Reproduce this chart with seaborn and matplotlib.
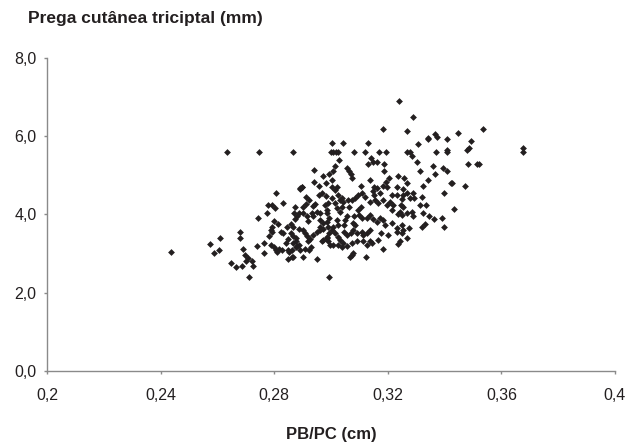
import matplotlib; matplotlib.use('Agg')
import numpy as np
import pandas as pd
import matplotlib.pyplot as plt
import seaborn as sns

# PB/PC (cm) and triceps skinfold (mm)
pb_pc = [
    0.2437, 0.2574, 0.2610, 0.2605, 0.2587,
    0.2635, 0.2748, 0.2867, 0.2941, 0.2973, 0.2941, 0.2957, 0.2982, 0.2994, 0.2897, 0.2891,
    0.3241, 0.3289, 0.3184, 0.3269, 0.3343, 0.3004, 0.3042, 0.3130, 0.3306, 0.3000, 0.3008,
    0.3018, 0.3026, 0.3082, 0.3120, 0.3168, 0.3195, 0.3269, 0.3278, 0.3286, 0.3141, 0.3149,
    0.3163, 0.3130, 0.3029, 0.3188, 0.3303, 0.3014, 0.3057, 0.3064, 0.3070, 0.3075, 0.3008,
    0.3188, 0.3315, 0.3002, 0.3138, 0.3205, 0.3237, 0.3257, 0.3193, 0.3269, 0.3341, 0.3324,
    0.3004, 0.3022, 0.3107, 0.3151, 0.3184, 0.3196, 0.3234, 0.3255,
    0.3534, 0.3446, 0.3367, 0.3373, 0.3342, 0.3409, 0.3493, 0.3675, 0.3675, 0.3486, 0.3480,
    0.3407, 0.3409, 0.3370, 0.3484, 0.3515, 0.3522, 0.3359, 0.3396, 0.3409, 0.3365, 0.3423,
    0.3427, 0.3473,
    0.3321, 0.3398, 0.3313, 0.3333, 0.3433, 0.3323, 0.3345, 0.3362, 0.3391, 0.3319, 0.3332, 0.3398,
    0.2805, 0.2830, 0.2779, 0.2791, 0.2803, 0.2775, 0.2742, 0.2799, 0.2815, 0.2791, 0.2788,
    0.2793, 0.2783, 0.2824, 0.2832, 0.2678, 0.2678, 0.2763, 0.2740, 0.2789, 0.2799, 0.2689,
    0.2816, 0.2827, 0.2805, 0.2811, 0.2763, 0.2850, 0.2697, 0.2709, 0.2701, 0.2723, 0.2727,
    0.2648, 0.2665, 0.2688, 0.2711, 0.2850, 0.2862, 0.2867, 0.2902, 0.2952, 0.2852, 0.2862,
    0.2877, 0.2891, 0.2908, 0.2850, 0.2840, 0.2879, 0.2876, 0.2867, 0.2888, 0.2859, 0.2865,
    0.2877, 0.2859, 0.2867, 0.2844, 0.2887, 0.2900, 0.2908, 0.2914, 0.2926, 0.2920, 0.2938,
    0.2950, 0.2961, 0.2928, 0.2923, 0.2967, 0.2985, 0.2994, 0.2873, 0.2879, 0.2888, 0.2870,
    0.2874, 0.2902, 0.2914, 0.2920, 0.2900, 0.2912, 0.2923, 0.2891, 0.2897, 0.2912, 0.2944,
    0.2936, 0.2932, 0.2938, 0.2950, 0.2961, 0.2959, 0.2967, 0.2982, 0.2961, 0.2973, 0.2985,
    0.2994, 0.2961, 0.2973, 0.2991, 0.2979, 0.2991, 0.2985,
    0.3014, 0.3161, 0.3173, 0.3149, 0.3152, 0.3108, 0.3096, 0.3085, 0.3075, 0.3120, 0.3002,
    0.3026, 0.3038, 0.3043, 0.3032, 0.3061, 0.3064, 0.2987, 0.3014, 0.3020, 0.3032, 0.3038,
    0.3055, 0.3049, 0.3046, 0.3081, 0.3079, 0.3085, 0.3100, 0.3108, 0.3096, 0.3104, 0.3137,
    0.3155, 0.3167, 0.3184, 0.3196, 0.3208, 0.3217, 0.3214, 0.3214, 0.3231, 0.3255, 0.3249,
    0.3269, 0.3278, 0.3246, 0.3255, 0.3243, 0.3235, 0.3249, 0.3269, 0.3290, 0.3292, 0.3284,
    0.3288, 0.3126, 0.3137, 0.3149, 0.3161, 0.3173, 0.3184, 0.3190, 0.3214, 0.3231, 0.3249,
    0.3276, 0.3234, 0.3249, 0.3252, 0.3202, 0.3175, 0.3269, 0.3243, 0.3237, 0.3137, 0.3126,
    0.3114, 0.3108, 0.3079, 0.3069, 0.3055, 0.3046, 0.3008, 0.3002, 0.3020, 0.3026, 0.3014,
    0.3026, 0.3032, 0.2985, 0.2973, 0.2991, 0.2996, 0.3043, 0.3055, 0.3073, 0.3091, 0.3114,
    0.3137, 0.3126, 0.3143, 0.3008, 0.3026, 0.3038, 0.3073, 0.3067, 0.3079, 0.3122, 0.3182,
    0.2994, 0.3167, 0.3091,
]
prega = [
    3.05, 3.25, 3.40, 3.09, 3.01,
    5.59, 5.59, 5.59, 5.14, 4.99, 4.84, 4.74, 4.80, 5.04, 4.70, 4.65,
    6.89, 6.49, 6.19, 6.14, 5.95, 5.84, 5.84, 5.84, 5.80, 5.59, 5.59,
    5.59, 5.59, 5.59, 5.59, 5.59, 5.59, 5.59, 5.59, 5.49, 5.45, 5.35,
    5.35, 5.29, 5.39, 5.29, 5.35, 5.24, 5.19, 5.11, 5.04, 4.94, 5.10,
    5.10, 5.10, 4.89, 4.89, 4.94, 4.99, 4.94, 4.84, 4.80, 4.88, 4.74,
    4.70, 4.70, 4.74, 4.70, 4.74, 4.70, 4.70, 4.65,
    6.19, 6.09, 6.05, 5.99, 5.94, 5.94, 5.89, 5.70, 5.59, 5.70, 5.64,
    5.64, 5.59, 5.59, 5.29, 5.29, 5.29, 5.24, 5.19, 5.10, 5.04, 4.80,
    4.80, 4.74,
    4.44, 4.54, 4.25, 4.25, 4.14, 4.05, 3.95, 3.89, 3.90, 3.69, 3.75, 3.69,
    4.54, 4.30, 4.25, 4.25, 4.16, 4.05, 3.91, 3.84, 3.76, 3.69, 3.61,
    3.54, 3.45, 3.56, 3.52, 3.55, 3.39, 3.26, 3.20, 3.22, 3.18, 3.13,
    3.13, 3.08, 3.08, 3.03, 3.01, 3.09, 2.97, 2.88, 2.80, 2.80, 2.69,
    2.77, 2.65, 2.69, 2.40, 2.86, 2.91, 2.91, 2.91, 2.86, 3.03, 3.09,
    3.18, 3.09, 3.13, 3.37, 3.26, 3.20, 3.33, 3.26, 3.22, 3.52, 3.46,
    3.39, 3.76, 3.69, 3.69, 3.64, 3.61, 3.52, 3.45, 3.37, 3.31, 3.48,
    3.54, 3.61, 3.18, 3.09, 3.31, 3.39, 3.52, 3.88, 3.95, 4.03, 4.05,
    4.20, 4.03, 3.95, 3.84, 4.20, 4.27, 4.37, 4.67, 4.71, 4.46, 4.27,
    4.22, 4.03, 3.96, 4.07, 4.03, 4.50, 4.54, 4.48, 3.86, 3.78, 3.82,
    3.91, 3.69, 3.62, 3.69, 4.25, 4.29, 4.12,
    4.63, 4.67, 4.54, 4.59, 4.50, 4.54, 4.50, 4.41, 4.37, 4.46, 4.41,
    4.50, 4.41, 4.33, 4.37, 4.37, 4.20, 4.03, 4.29, 4.16, 4.07, 4.20,
    3.96, 3.86, 3.73, 3.95, 3.79, 3.73, 3.99, 3.91, 4.12, 4.20, 4.33,
    4.37, 4.29, 4.37, 4.25, 4.33, 4.25, 4.12, 4.50, 4.50, 4.50, 4.39,
    4.54, 4.41, 4.25, 4.18, 4.07, 4.01, 3.99, 4.03, 4.54, 4.41, 4.07,
    3.95, 3.91, 3.99, 3.88, 3.82, 3.91, 3.86, 3.73, 3.78, 3.65, 3.73,
    3.65, 3.54, 3.52, 3.61, 3.48, 3.52, 3.39, 3.31, 3.25, 3.61, 3.52,
    3.48, 3.56, 3.61, 3.52, 3.48, 3.56, 3.69, 3.61, 3.86, 3.73, 3.52,
    3.43, 3.35, 3.43, 3.35, 3.31, 3.22, 3.26, 3.20, 3.26, 3.31, 3.31,
    3.31, 3.22, 3.26, 3.22, 3.22, 3.18, 2.97, 2.92, 3.01, 2.91, 3.11,
    2.40, 3.35, 3.52,
]
x_ticks = [0.2, 0.24, 0.28, 0.32, 0.36, 0.4]
x_labels = ['0,2', '0,24', '0,28', '0,32', '0,36', '0,4']
y_ticks = [0.0, 2.0, 4.0, 6.0, 8.0]
y_labels = ['0,0', '2,0', '4,0', '6,0', '8,0']

df = pd.DataFrame({'pb_pc': pb_pc, 'prega': prega})

sns.set_theme(style='white')
plt.rcParams['font.family'] = ['Liberation Sans', 'DejaVu Sans']

fig = plt.figure(figsize=(6.29, 4.46), dpi=100)
ax = fig.add_axes([47/629, 75/446, 568/629, 313/446])

sns.scatterplot(data=df, x='pb_pc', y='prega', marker='D', s=12,
                color='#231f20', linewidth=0, ax=ax)

ax.set_xlim(0.2, 0.4)
ax.set_ylim(0, 8)
ax.set_xticks(x_ticks)
ax.set_xticklabels(x_labels)
ax.set_yticks(y_ticks)
ax.set_yticklabels(y_labels)
ax.set_xlabel('')
ax.set_ylabel('')

for s in ['top', 'right']:
    ax.spines[s].set_visible(False)
for s in ['left', 'bottom']:
    ax.spines[s].set_color('#8a8a8a')
    ax.spines[s].set_linewidth(1.0)

ax.tick_params(axis='x', direction='out', length=2.5, width=1, color='#8a8a8a',
               labelsize=11.5, pad=10, labelcolor='#231f20', bottom=True)
ax.tick_params(axis='y', direction='out', length=2.5, width=1, color='#8a8a8a',
               labelsize=11.5, pad=5, labelcolor='#231f20', left=True)

fig.text(28/629, 1 - 18/446, 'Prega cutânea triciptal (mm)', fontsize=12.5,
         fontweight='bold', ha='left', va='center', color='#231f20')
fig.text(331/629, 1 - 435/446, 'PB/PC (cm)', fontsize=12,
         fontweight='bold', ha='center', va='center', color='#231f20')

plt.savefig('out.png', dpi=100)
plt.close()
